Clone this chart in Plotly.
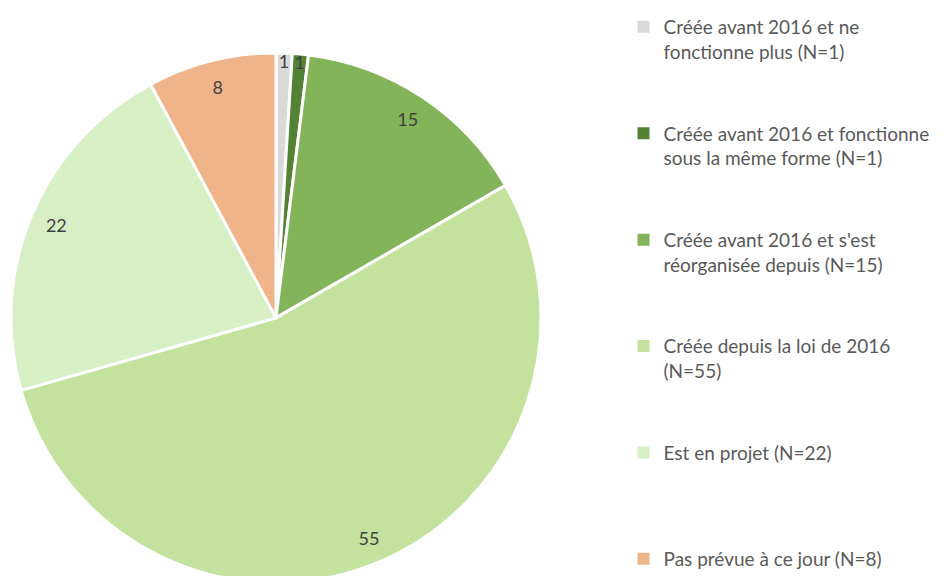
import plotly.graph_objects as go

labels = [
    "Créée avant 2016 et ne<br>fonctionne plus (N=1)",
    "Créée avant 2016 et fonctionne<br>sous la même forme (N=1)",
    "Créée avant 2016 et s'est<br>réorganisée depuis (N=15)",
    "Créée depuis la loi de 2016<br>(N=55)",
    "Est en projet (N=22)<br> ",
    "Pas prévue à ce jour (N=8)",
]
values = [1, 1, 15, 55, 22, 8]
colors = ["#d9d9d9", "#548235", "#84b45a", "#c3e29d", "#d6efc4", "#f0b48a"]

dom = dict(x=[3 / 949, 533 / 949], y=[0.0, 0.924])

fig = go.Figure()
fig.add_trace(go.Pie(
    values=values, sort=False, direction="clockwise", rotation=0,
    marker=dict(colors=colors, line=dict(color="white", width=3)),
    textinfo="none", showlegend=False, domain=dom, hoverinfo="skip",
))
fig.add_trace(go.Pie(
    values=values, sort=False, direction="clockwise", rotation=0, hole=0.8,
    marker=dict(colors=["rgba(0,0,0,0)"] * len(values), line=dict(width=0)),
    text=[str(v) for v in values], textinfo="text", textposition="inside",
    insidetextorientation="horizontal",
    textfont=dict(family="Lato, Open Sans, sans-serif", size=18, color="#404040"),
    showlegend=False, domain=dom, hoverinfo="skip",
))
for i, (lab, col) in enumerate(zip(labels, colors)):
    fig.add_trace(go.Scatter(
        x=[None], y=[None], mode="markers", name=lab, legendgroup=f"g{i}",
        marker=dict(symbol="square", size=9, color=col),
    ))

fig.update_layout(
    width=949, height=576,
    margin=dict(l=0, r=0, t=0, b=0),
    paper_bgcolor="white", plot_bgcolor="white",
    xaxis=dict(visible=False), yaxis=dict(visible=False),
    uniformtext=dict(minsize=18, mode="show"),
    legend=dict(
        x=0.6486, y=1.0, xanchor="left", yanchor="top",
        valign="top", tracegroupgap=54, itemsizing="constant",
        font=dict(family="Lato, Open Sans, sans-serif", size=19, color="#595959"),
    ),
)
fig.write_html("out.html")
